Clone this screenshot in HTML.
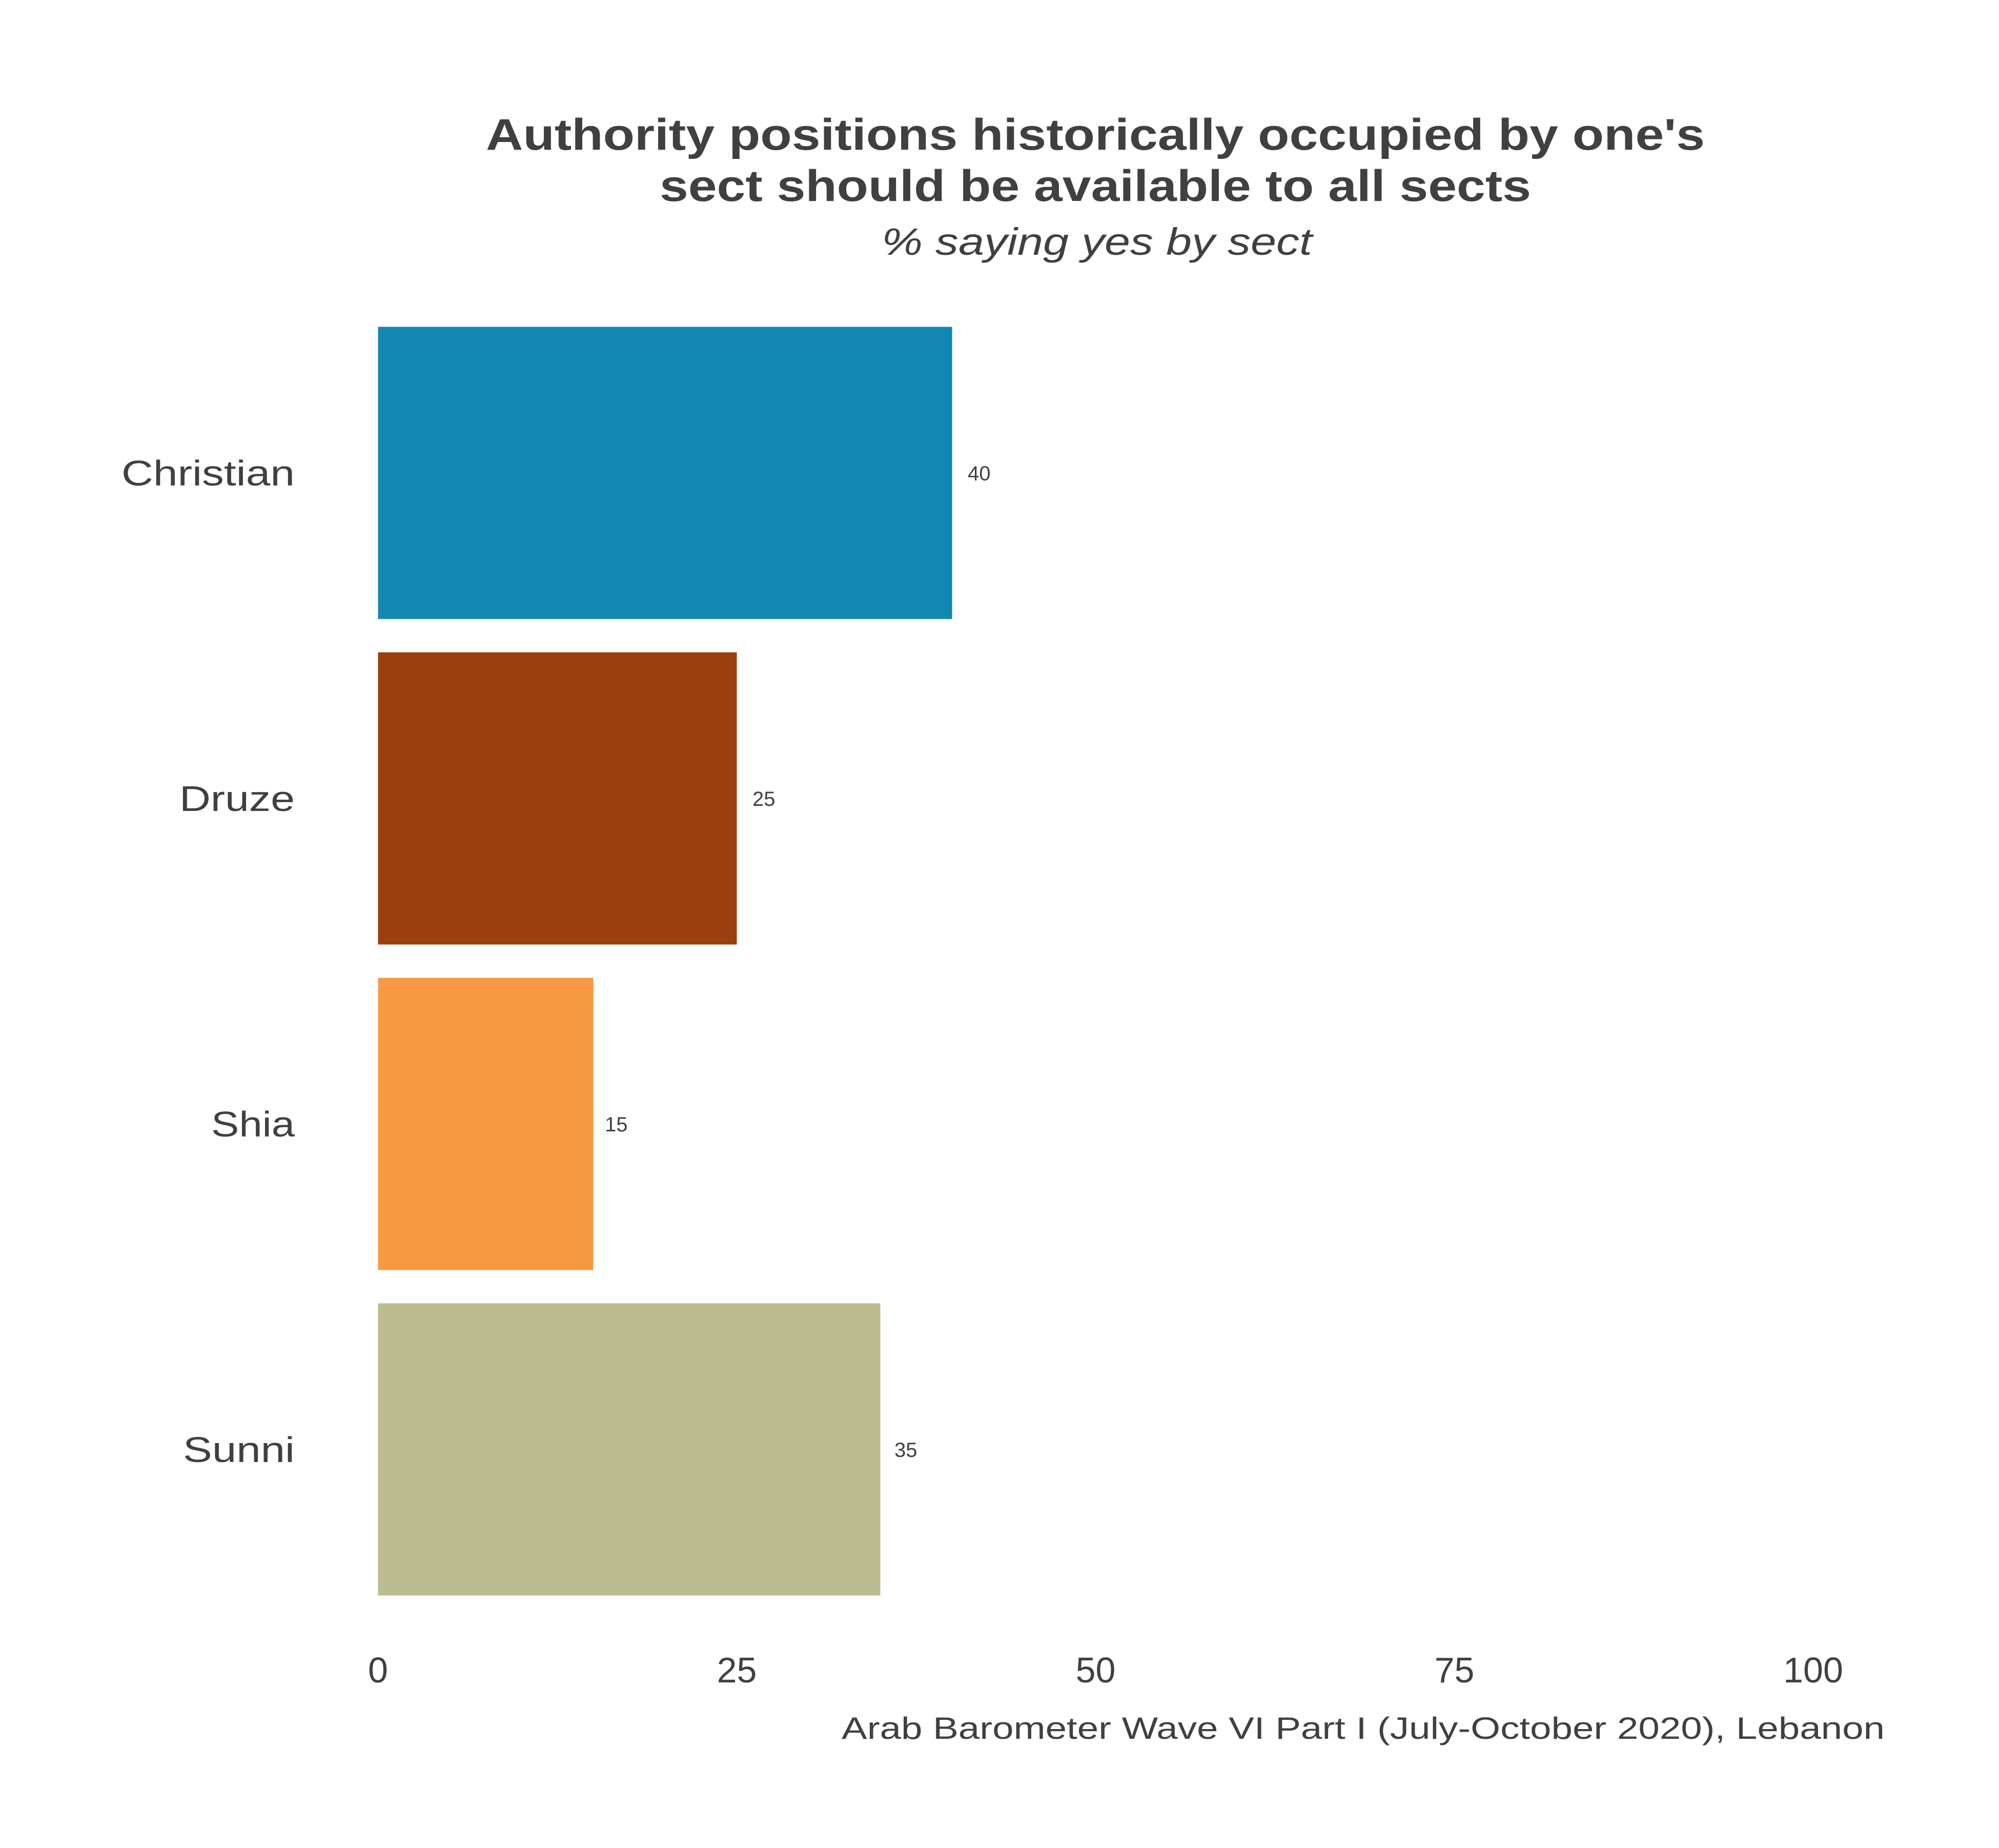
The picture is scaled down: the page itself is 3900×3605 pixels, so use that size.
<!DOCTYPE html>
<html><head><meta charset="utf-8"><style>
html,body{margin:0;padding:0;background:#fff;}
body{width:3900px;height:3600px;overflow:hidden;}
</style></head><body>
<svg width="3900" height="3600" xmlns="http://www.w3.org/2000/svg" font-family="Liberation Sans, sans-serif" fill="#404040">
<text x="2137" y="292" font-size="86" font-weight="bold" text-anchor="middle" textLength="2378" lengthAdjust="spacingAndGlyphs">Authority positions historically occupied by one's</text>
<text x="2137" y="392" font-size="86" font-weight="bold" text-anchor="middle" textLength="1700" lengthAdjust="spacingAndGlyphs">sect should be available to all sects</text>
<text x="2140" y="497" font-size="74" font-style="italic" text-anchor="middle" textLength="840" lengthAdjust="spacingAndGlyphs">% saying yes by sect</text>

<rect x="737.5" y="637.5" width="1120" height="570" fill="#1287b1"/>
<rect x="737.5" y="1272.5" width="700" height="570" fill="#9b3f0f"/>
<rect x="737.5" y="1907.5" width="420" height="570" fill="#f79a42"/>
<rect x="737.5" y="2542.5" width="980" height="570" fill="#bbbd90"/>

<g font-size="70" text-anchor="end">
<text x="575" y="947" textLength="338" lengthAdjust="spacingAndGlyphs">Christian</text>
<text x="575" y="1582" textLength="225" lengthAdjust="spacingAndGlyphs">Druze</text>
<text x="575" y="2217" textLength="163" lengthAdjust="spacingAndGlyphs">Shia</text>
<text x="575" y="2852" textLength="218" lengthAdjust="spacingAndGlyphs">Sunni</text>
</g>
<g font-size="40">
<text x="1888" y="937">40</text>
<text x="1468" y="1572">25</text>
<text x="1180" y="2207">15</text>
<text x="1745" y="2842">35</text>
</g>
<g font-size="70" text-anchor="middle">
<text x="737.5" y="3282">0</text>
<text x="1437.5" y="3282">25</text>
<text x="2137.5" y="3282">50</text>
<text x="2837.5" y="3282">75</text>
<text x="3537.5" y="3282">100</text>
</g>
<text x="3677" y="3392" font-size="60" text-anchor="end" textLength="2035" lengthAdjust="spacingAndGlyphs">Arab Barometer Wave VI Part I (July-October 2020), Lebanon</text>
</svg>
</body></html>
